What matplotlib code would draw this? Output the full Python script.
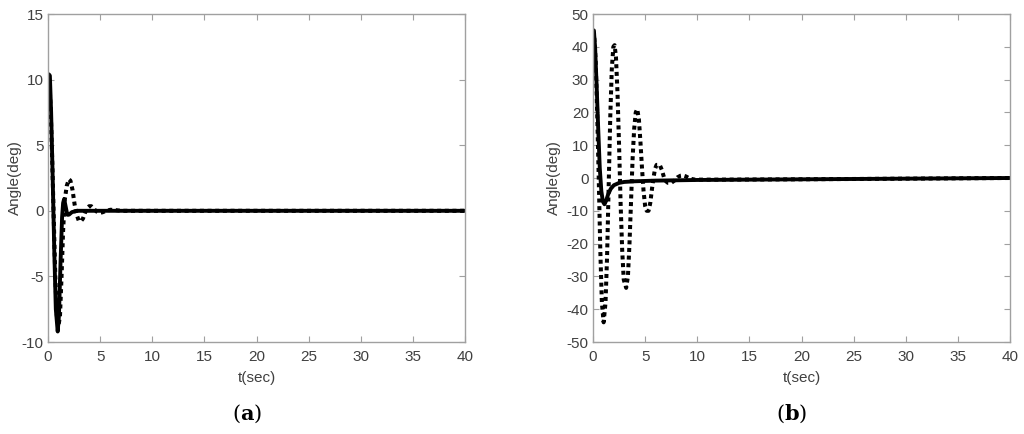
import matplotlib
matplotlib.use("Agg")
import matplotlib.pyplot as plt

plt.rcParams['font.family'] = ['Liberation Sans', 'DejaVu Sans']
plt.rcParams['axes.unicode_minus'] = False
plt.rcParams['mathtext.fontset'] = 'dejavuserif'

# ---- Panel (a) data ----
ta_solid = [0, 0.08, 0.18, 0.3, 0.45, 0.6, 0.75, 0.93, 1.05, 1.2, 1.35, 1.45, 1.55,
            1.7, 1.85, 2.0, 2.3, 2.8, 40]
ya_solid = [10.0, 10.4, 10.3, 7.5, 2.5, -3, -7.5, -9.2, -8, -4, -0.5, 0.6, 0.9,
            0.3, -0.3, -0.3, -0.1, 0, 0]

ta_dot = [0, 0.1, 0.25, 0.4, 0.55, 0.7, 0.85, 1.0, 1.15, 1.3, 1.45, 1.6, 1.8, 2.0,
          2.15, 2.35, 2.55, 2.75, 2.95, 3.15, 3.35, 3.55, 3.75, 3.95, 4.15, 4.4,
          4.65, 4.9, 5.2, 5.6, 6.0, 6.5, 7.0, 40]
ya_dot = [10.0, 10.1, 8, 4, -0.5, -5, -8, -8.8, -8, -5, -1.5, 0.8, 1.9, 2.4,
          2.3, 1.6, 0.5, -0.3, -0.75, -0.8, -0.6, -0.15, 0.2, 0.35, 0.35, 0.15,
          -0.05, -0.15, -0.12, 0.0, 0.08, 0.05, 0, 0]

# ---- Panel (b) data ----
tb_solid = [0, 0.08, 0.2, 0.35, 0.5, 0.65, 0.8, 0.95, 1.1, 1.25, 1.45, 1.7, 2.0,
            2.5, 3.0, 4.0, 6, 10, 20, 30, 40]
yb_solid = [45, 45, 40, 28, 15, 3, -4, -7.2, -8, -7, -5, -3.3, -2.2,
            -1.5, -1.2, -1, -0.8, -0.6, -0.4, -0.2, 0]

tb_dot = [0.0, 0.1, 0.25, 0.4, 0.55, 0.7, 0.85, 1.02, 1.2, 1.35, 1.5, 1.65, 1.8,
          1.95, 2.07, 2.2, 2.35, 2.5, 2.65, 2.8, 2.95, 3.18, 3.35, 3.5, 3.65, 3.8,
          3.95, 4.1, 4.24, 4.4, 4.55, 4.7, 4.85, 5.0, 5.15, 5.33, 5.5, 5.65, 5.8,
          5.95, 6.1, 6.4, 6.6, 6.8, 7.0, 7.2, 7.5, 7.8, 8.1, 8.4, 8.6, 8.9, 9.3,
          9.8, 12, 20, 30, 40]
yb_dot = [45, 44, 36, 20, 0, -22, -38, -44, -38, -24, -3, 18, 33,
          40, 40.5, 37, 26, 10, -8, -22, -31, -33.5, -30, -20, -7, 6,
          15, 20, 21, 18, 11, 3, -4, -8.5, -10, -10, -7.5, -3.5, 0,
          2.8, 4, 4, 2.5, 0.3, -1, -1.5, -1.5, -0.8, 0.2, 0.7, 0.8, 0.5, -0.2,
          -0.5, -0.5, -0.4, -0.2, 0]

xticks = [0, 5, 10, 15, 20, 25, 30, 35, 40]
yticks_a = [-10, -5, 0, 5, 10, 15]
yticks_b = [-50, -40, -30, -20, -10, 0, 10, 20, 30, 40, 50]

fig = plt.figure(figsize=(10.24, 4.34), dpi=100)
W, H = 1024, 434

spine_c = '#a0a0a0'
label_c = '#404040'

def make_ax(left_px, ylim, yticks, ts, ys, td, yd, caption, cap_x, ylab_x):
    ax = fig.add_axes([left_px / W, (H - 342) / H, 417 / W, 328 / H])
    ax.plot(td, yd, color='black', lw=2.9, linestyle=(0, (1, 0.9)))
    ax.plot(ts, ys, color='black', lw=2.8, solid_capstyle='butt')
    ax.set_xlim(0, 40)
    ax.set_ylim(*ylim)
    ax.set_xticks(xticks)
    ax.set_yticks(yticks)
    ax.tick_params(direction='in', top=True, right=True, length=4,
                   color=spine_c, labelcolor=label_c, labelsize=11)
    ax.tick_params(axis='x', pad=6)
    ax.tick_params(axis='y', pad=3)
    for s in ax.spines.values():
        s.set_color(spine_c)
        s.set_linewidth(1.0)
    ax.set_xlabel('t(sec)', fontsize=11, color=label_c)
    ax.xaxis.set_label_coords(0.5, -(378 - 342) / 328)
    ax.xaxis.label.set_va('center')
    ax.set_ylabel('Angle(deg)', fontsize=11, color=label_c)
    ax.yaxis.set_label_coords((ylab_x - left_px) / 417, 0.5)
    ax.yaxis.label.set_va('center')
    fig.text(cap_x / W, 1 - 414 / H, caption,
             ha='center', va='center', fontsize=15, color='black')
    return ax

make_ax(48, (-10, 15), yticks_a, ta_solid, ya_solid, ta_dot, ya_dot,
        r'$(\mathbf{a})$', 247, 15)
make_ax(593, (-50, 50), yticks_b, tb_solid, yb_solid, tb_dot, yb_dot,
        r'$(\mathbf{b})$', 792, 554)

fig.savefig('out.png', dpi=100)
